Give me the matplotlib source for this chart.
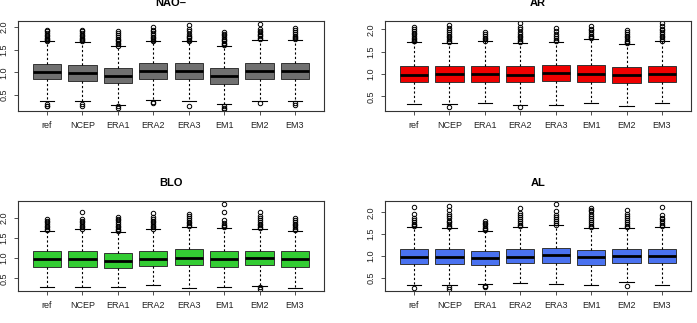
"""
Boxplots of normalised pattern values for the four regimes
"""
import matplotlib
matplotlib.use("Agg")
import matplotlib.pyplot as plt

plt.rcParams['font.family'] = ['Liberation Sans', 'DejaVu Sans']

labels = ['ref', 'NCEP', 'ERA1', 'ERA2', 'ERA3', 'EM1', 'EM2', 'EM3']

# NAO-
nao_q1 = [0.845, 0.82, 0.77, 0.86, 0.85, 0.755, 0.85, 0.865]
nao_med = [1.01, 0.99, 0.93, 1.03, 1.02, 0.92, 1.03, 1.03]
nao_q3 = [1.185, 1.16, 1.10, 1.20, 1.20, 1.09, 1.20, 1.215]
nao_lo = [0.36, 0.36, 0.29, 0.40, 0.37, 0.30, 0.37, 0.37]
nao_hi = [1.68, 1.67, 1.57, 1.68, 1.68, 1.58, 1.72, 1.72]
nao_out = [
    [1.70, 1.72, 1.74, 1.76, 1.79, 1.82, 1.86, 1.90, 1.94, 0.30, 0.27, 0.25],
    [1.69, 1.71, 1.73, 1.76, 1.79, 1.82, 1.86, 1.90, 1.93, 0.30, 0.25],
    [1.59, 1.62, 1.65, 1.68, 1.71, 1.74, 1.78, 1.82, 1.86, 1.91, 0.25, 0.22],
    [1.70, 1.72, 1.75, 1.78, 1.82, 1.86, 1.90, 1.94, 2.00, 0.35, 0.33],
    [1.70, 1.72, 1.75, 1.78, 1.81, 1.85, 1.90, 1.96, 2.04, 0.25],
    [1.60, 1.62, 1.65, 1.68, 1.71, 1.74, 1.78, 1.82, 1.85, 1.88, 0.25, 0.22, 0.20],
    [1.74, 1.76, 1.79, 1.82, 1.85, 1.88, 1.92, 1.96, 2.07, 0.32],
    [1.74, 1.76, 1.78, 1.81, 1.85, 1.89, 1.93, 1.98, 0.33, 0.29],
]

# AR
ar_q1 = [0.83, 0.83, 0.81, 0.81, 0.835, 0.81, 0.79, 0.83]
ar_med = [0.985, 0.99, 0.99, 0.985, 1.015, 1.0, 0.97, 1.0]
ar_q3 = [1.19, 1.18, 1.17, 1.17, 1.20, 1.21, 1.15, 1.19]
ar_lo = [0.32, 0.32, 0.34, 0.31, 0.295, 0.34, 0.28, 0.355]
ar_hi = [1.71, 1.70, 1.73, 1.70, 1.71, 1.78, 1.67, 1.73]
ar_out = [
    [1.73, 1.75, 1.78, 1.81, 1.85, 1.89, 1.93, 1.97, 2.01, 2.06],
    [1.72, 1.75, 1.78, 1.82, 1.86, 1.90, 1.94, 1.98, 2.03, 2.10, 0.27],
    [1.75, 1.78, 1.81, 1.85, 1.89, 1.95],
    [1.72, 1.75, 1.78, 1.82, 1.86, 1.90, 1.95, 2.00, 2.06, 2.15, 0.25],
    [1.73, 1.76, 1.80, 1.85, 1.90, 1.96, 2.04],
    [1.80, 1.83, 1.86, 1.90, 1.94, 1.98, 2.02, 2.08],
    [1.69, 1.72, 1.75, 1.78, 1.82, 1.86, 1.90, 1.94, 1.99],
    [1.75, 1.78, 1.82, 1.86, 1.90, 1.94, 1.98, 2.02, 2.07, 2.14],
]

# BLO
blo_q1 = [0.79, 0.79, 0.76, 0.80, 0.835, 0.79, 0.82, 0.79]
blo_med = [0.97, 0.985, 0.94, 0.985, 1.01, 0.975, 1.0, 0.97]
blo_q3 = [1.165, 1.18, 1.12, 1.17, 1.22, 1.18, 1.18, 1.165]
blo_lo = [0.28, 0.28, 0.30, 0.34, 0.26, 0.28, 0.31, 0.27]
blo_hi = [1.68, 1.71, 1.64, 1.71, 1.78, 1.74, 1.72, 1.68]
blo_out = [
    [1.70, 1.73, 1.76, 1.80, 1.84, 1.88, 1.92, 1.97],
    [1.73, 1.76, 1.80, 1.84, 1.88, 1.92, 1.96, 2.14],
    [1.66, 1.69, 1.72, 1.76, 1.80, 1.84, 1.88, 1.93, 1.97, 2.01],
    [1.73, 1.76, 1.80, 1.84, 1.88, 1.92, 1.96, 2.01, 2.11],
    [1.80, 1.83, 1.86, 1.90, 1.94, 1.98, 2.03, 2.08],
    [1.76, 1.79, 1.83, 1.87, 1.93, 2.14, 2.33],
    [1.74, 1.77, 1.81, 1.85, 1.89, 1.93, 1.98, 2.04, 2.14, 0.28, 0.24],
    [1.70, 1.73, 1.77, 1.81, 1.85, 1.89, 1.94, 1.99],
]

# AL
al_q1 = [0.82, 0.82, 0.80, 0.83, 0.845, 0.80, 0.83, 0.83]
al_med = [0.985, 0.985, 0.96, 0.985, 1.015, 0.97, 0.99, 0.99]
al_q3 = [1.16, 1.16, 1.115, 1.16, 1.19, 1.14, 1.16, 1.16]
al_lo = [0.335, 0.335, 0.35, 0.37, 0.35, 0.33, 0.40, 0.33]
al_hi = [1.66, 1.64, 1.57, 1.66, 1.70, 1.64, 1.64, 1.67]
al_out = [
    [1.68, 1.71, 1.74, 1.78, 1.82, 1.86, 1.96, 2.12, 0.27],
    [1.66, 1.69, 1.73, 1.77, 1.81, 1.86, 1.91, 1.96, 2.06, 2.14, 0.29, 0.24],
    [1.59, 1.62, 1.65, 1.69, 1.73, 1.76, 1.79, 0.31, 0.30, 0.28],
    [1.68, 1.71, 1.75, 1.79, 1.84, 1.89, 1.94, 1.98, 2.09],
    [1.72, 1.75, 1.79, 1.84, 1.89, 1.94, 2.04, 2.19],
    [1.66, 1.69, 1.73, 1.77, 1.82, 1.87, 1.92, 1.97, 2.02, 2.06, 2.09],
    [1.66, 1.69, 1.73, 1.77, 1.82, 1.87, 1.92, 1.97, 2.06, 0.30],
    [1.69, 1.72, 1.76, 1.80, 1.84, 1.88, 1.94, 2.12],
]

panels = [
    ('NAO\u2013', nao_q1, nao_med, nao_q3, nao_lo, nao_hi, nao_out, '#707070', (0.15, 2.13)),
    ('AR', ar_q1, ar_med, ar_q3, ar_lo, ar_hi, ar_out, '#ee0000', (0.17, 2.19)),
    ('BLO', blo_q1, blo_med, blo_q3, blo_lo, blo_hi, blo_out, '#33cc33', (0.19, 2.41)),
    ('AL', al_q1, al_med, al_q3, al_lo, al_hi, al_out, '#4a72f0', (0.195, 2.26)),
]

W, H = 697, 323
fig = plt.figure(figsize=(W / 100, H / 100), dpi=100)

# axes rectangles in pixels: left, top, right, bottom
rects = [(18, 21, 324, 111), (385, 21, 691, 111),
         (18, 201, 324, 291), (385, 201, 691, 291)]

for (title, q1, med, q3, lo, hi, out, col, ylim), (l, t, r, b) in zip(panels, rects):
    ax = fig.add_axes([l / W, 1 - b / H, (r - l) / W, (b - t) / H])
    stats = []
    for i in range(len(labels)):
        stats.append({'q1': q1[i], 'med': med[i], 'q3': q3[i],
                      'whislo': lo[i], 'whishi': hi[i], 'fliers': out[i]})
    ax.bxp(stats, positions=range(1, 9), widths=0.8, capwidths=0.4,
           patch_artist=True, showfliers=True,
           boxprops=dict(facecolor=col, edgecolor='#333333', linewidth=0.7),
           medianprops=dict(color='black', linewidth=2.0),
           whiskerprops=dict(color='black', linewidth=0.8, linestyle=(0, (2, 2))),
           capprops=dict(color='black', linewidth=0.8),
           flierprops=dict(marker='o', markerfacecolor='none', markeredgecolor='black',
                           markersize=3.2, markeredgewidth=0.7))
    ax.set_xlim(0.18, 8.82)
    ax.set_ylim(*ylim)
    ax.set_xticks(range(1, 9))
    ax.set_xticklabels(labels, fontsize=6.5, color='#222222')
    ax.set_yticks([0.5, 1.0, 1.5, 2.0])
    ax.set_yticklabels(['0.5', '1.0', '1.5', '2.0'], fontsize=6.5, rotation=90,
                       va='center', color='#222222')
    ax.tick_params(axis='both', length=3, width=0.6, pad=4, color='#333333')
    for s in ax.spines.values():
        s.set_linewidth(0.8)
        s.set_color('#333333')
    ax.set_title(title, fontsize=8, fontweight='bold', pad=11)

fig.savefig('out.png', dpi=100)
